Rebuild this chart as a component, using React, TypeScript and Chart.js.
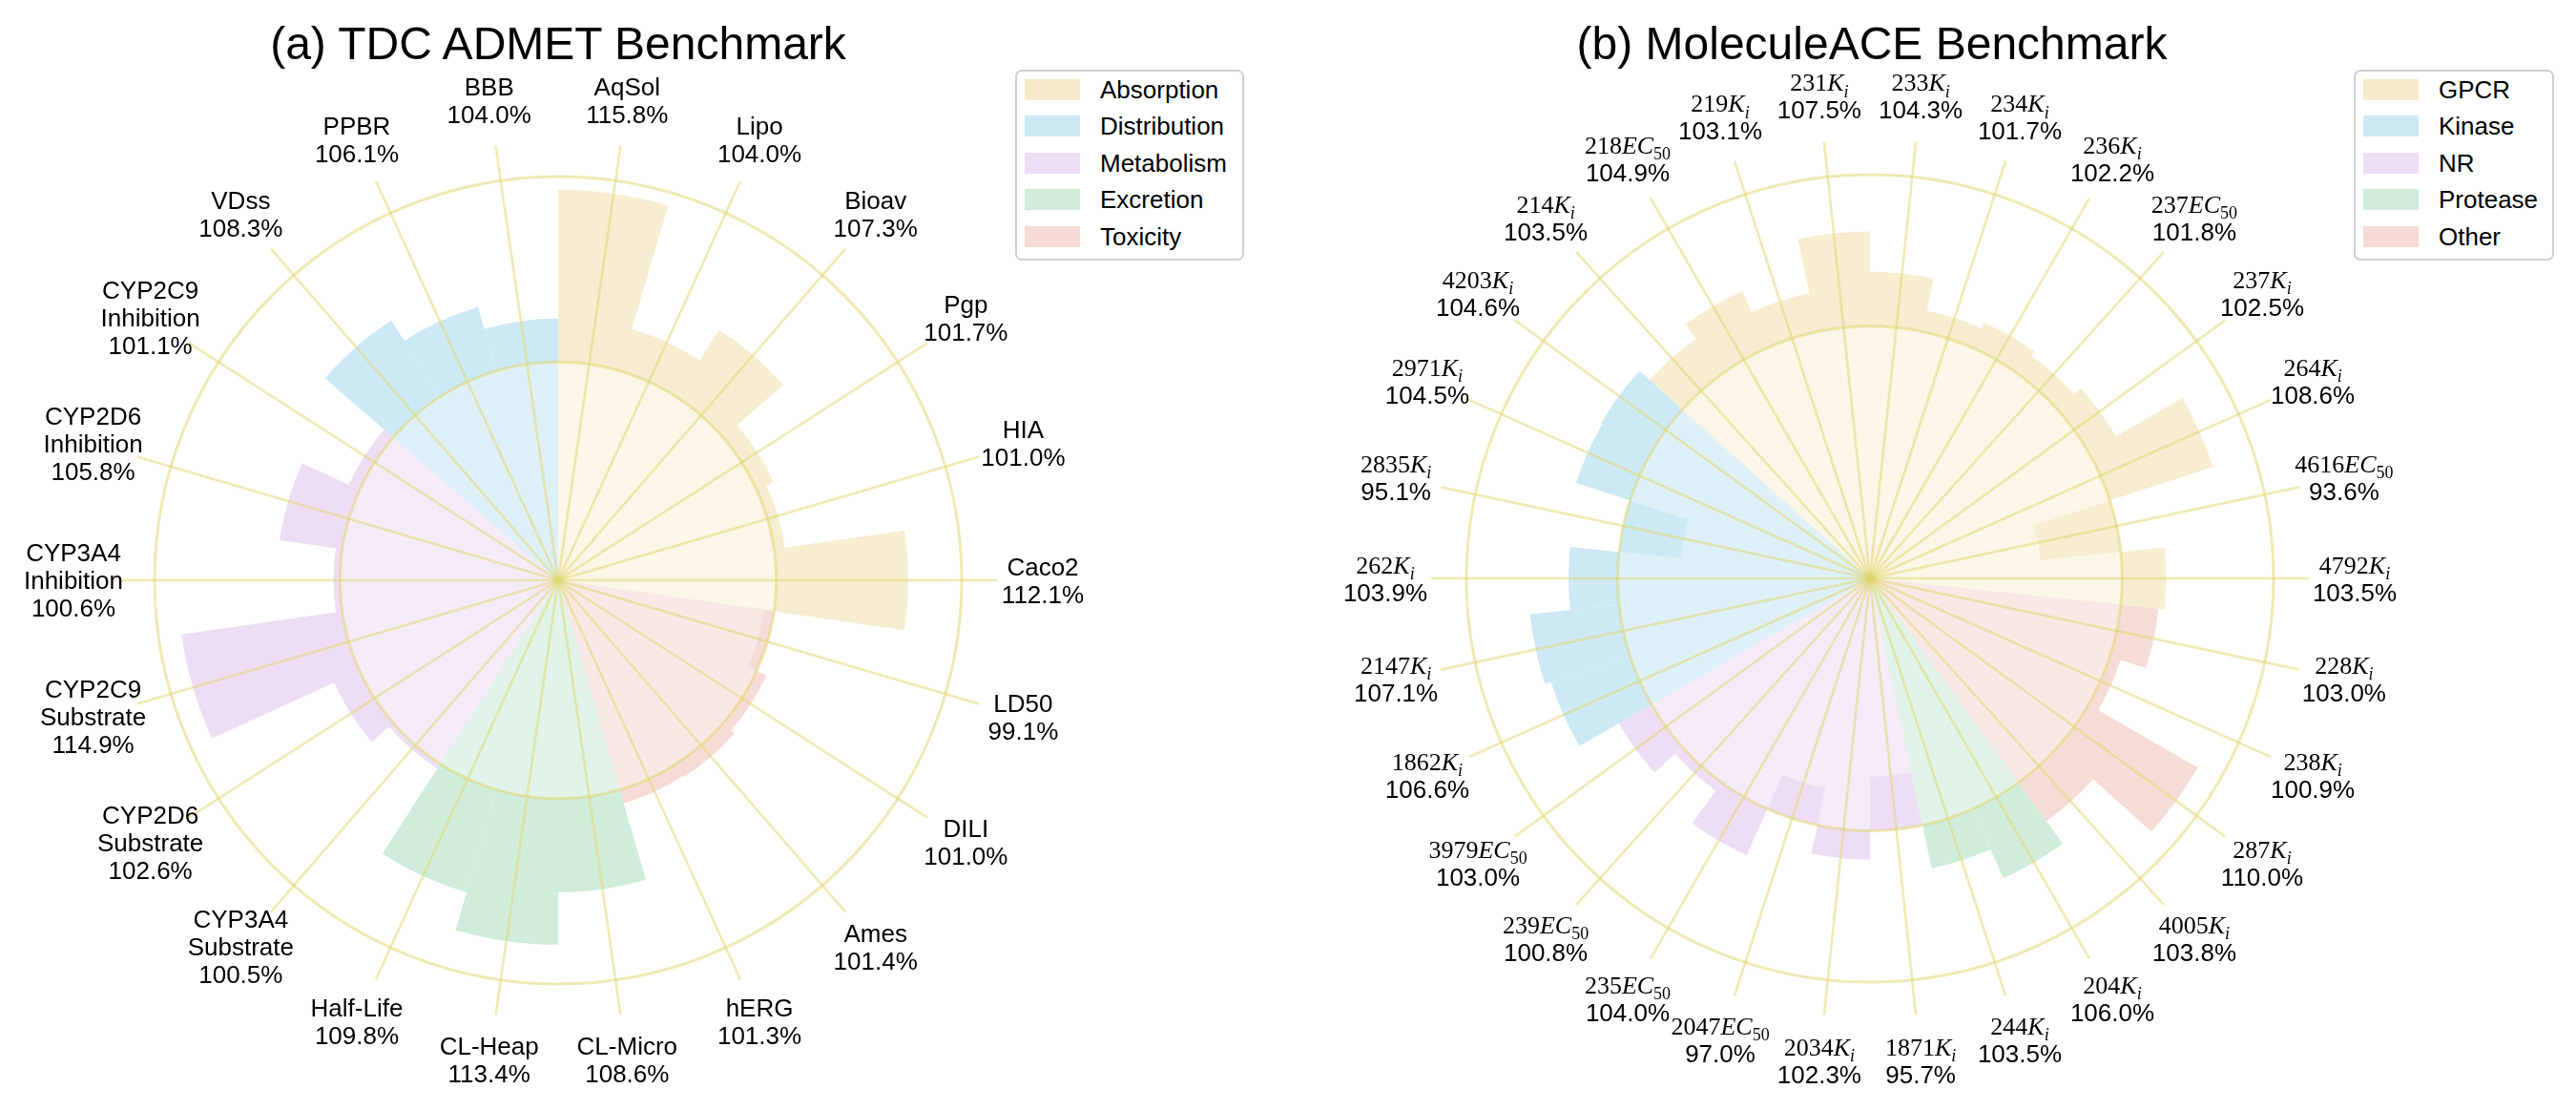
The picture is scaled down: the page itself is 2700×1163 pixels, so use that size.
import React, { useEffect, useRef } from 'react';
import { Chart, registerables } from 'chart.js';

Chart.register(...registerables);

// ---------------- data ----------------
const admetNames = [
  'AqSol', 'Lipo', 'Bioav', 'Pgp', 'HIA', 'Caco2',
  'LD50', 'DILI', 'Ames', 'hERG',
  'CL-Micro', 'CL-Heap', 'Half-Life',
  'CYP3A4\nSubstrate', 'CYP2D6\nSubstrate', 'CYP2C9\nSubstrate',
  'CYP3A4\nInhibition', 'CYP2D6\nInhibition', 'CYP2C9\nInhibition',
  'VDss', 'PPBR', 'BBB',
];
const admetValues = [
  115.8, 104.0, 107.3, 101.7, 101.0, 112.1,
  99.1, 101.0, 101.4, 101.3,
  108.6, 113.4, 109.8,
  100.5, 102.6, 114.9,
  100.6, 105.8, 101.1,
  108.3, 106.1, 104.0,
];
const admetGroups = ['Absorption', 'Distribution', 'Metabolism', 'Excretion', 'Toxicity'];
const admetGroupOf = [0, 0, 0, 0, 0, 0, 4, 4, 4, 4, 3, 3, 3, 2, 2, 2, 2, 2, 2, 1, 1, 1];

const aceTargets = [
  '233', '234', '236', '237', '237', '264', '4616', '4792',
  '228', '238', '287', '4005',
  '204', '244',
  '1871', '2034', '2047', '235', '239', '3979',
  '1862', '2147', '262', '2835', '2971', '4203',
  '214', '218', '219', '231',
];
const aceMeasures = [
  'Ki', 'Ki', 'Ki', 'EC50', 'Ki', 'Ki', 'EC50', 'Ki',
  'Ki', 'Ki', 'Ki', 'Ki',
  'Ki', 'Ki',
  'Ki', 'Ki', 'EC50', 'EC50', 'EC50', 'EC50',
  'Ki', 'Ki', 'Ki', 'Ki', 'Ki', 'Ki',
  'Ki', 'EC50', 'Ki', 'Ki',
];
const aceValues = [
  104.3, 101.7, 102.2, 101.8, 102.5, 108.6, 93.6, 103.5,
  103.0, 100.9, 110.0, 103.8,
  106.0, 103.5,
  95.7, 102.3, 97.0, 104.0, 100.8, 103.0,
  106.6, 107.1, 103.9, 95.1, 104.5, 104.6,
  103.5, 104.9, 103.1, 107.5,
];
const aceGroups = ['GPCR', 'Kinase', 'NR', 'Protease', 'Other'];
const aceGroupOf = [
  0, 0, 0, 0, 0, 0, 0, 0,
  4, 4, 4, 4,
  3, 3,
  2, 2, 2, 2, 2, 2,
  1, 1, 1, 1, 1, 1,
  0, 0, 0, 0,
];

// radial axis ranges
const R_MIN = 80;
const R_REF = 100;
const admetRMax = 117;
const aceRMax = 112;

// ---------------- styles ----------------
const SANS = '"Liberation Sans", Arial, Helvetica, sans-serif';
const SERIF = '"Liberation Serif", "Times New Roman", Times, serif';
const darkColors = ['rgb(247,237,209)', 'rgb(205,233,245)', 'rgb(237,222,245)', 'rgb(208,237,219)', 'rgb(245,220,214)'];
const lightColors = ['rgb(251,246,231)', 'rgb(223,241,248)', 'rgb(245,235,249)', 'rgb(226,244,233)', 'rgb(249,233,230)'];
const legendColors = ['rgb(246,234,203)', 'rgb(204,233,245)', 'rgb(237,222,246)', 'rgb(208,237,219)', 'rgb(245,219,212)'];
const GRID_COLOR = 'rgba(224,214,105,0.5)';

const FIG_W = 2700;
const FIG_H = 1163;
const PANEL_W = 1350;
const AXIS_R = 423; // px radius of outer circle
const SPOKE_R = 460; // px length of spokes
const LABEL_R = 508; // px distance of label centres
const FONT = 26;
const LINE_H = 29;

type Seg = { text: string; family: string; italic?: boolean; sub?: boolean };

function pct(v: number) {
  return v.toFixed(1) + '%';
}

function drawSegLine(ctx: CanvasRenderingContext2D, segs: Seg[], cx: number, yc: number) {
  const fontOf = (s: Seg) => {
    const size = s.sub ? Math.round(FONT * 0.7) : FONT;
    return `${s.italic ? 'italic ' : ''}${size}px ${s.family}`;
  };
  let total = 0;
  const widths = segs.map((s) => {
    ctx.font = fontOf(s);
    const w = ctx.measureText(s.text).width;
    total += w;
    return w;
  });
  let x = cx - total / 2;
  const base = yc + FONT * 0.35;
  ctx.textAlign = 'left';
  ctx.textBaseline = 'alphabetic';
  segs.forEach((s, k) => {
    ctx.font = fontOf(s);
    ctx.fillText(s.text, x, base + (s.sub ? FONT * 0.24 : 0));
    x += widths[k];
  });
}

function admetLabel(i: number): Seg[][] {
  const lines: Seg[][] = admetNames[i].split('\n').map((t) => [{ text: t, family: SANS }]);
  lines.push([{ text: pct(admetValues[i]), family: SANS }]);
  return lines;
}

function aceLabel(i: number): Seg[][] {
  const m = aceMeasures[i];
  const first: Seg[] = [{ text: aceTargets[i], family: SERIF }];
  if (m === 'Ki') {
    first.push({ text: 'K', family: SERIF, italic: true });
    first.push({ text: 'i', family: SERIF, italic: true, sub: true });
  } else {
    first.push({ text: 'EC', family: SERIF, italic: true });
    first.push({ text: '50', family: SERIF, sub: true });
  }
  return [first, [{ text: pct(aceValues[i]), family: SANS }]];
}

interface PanelSpec {
  names: string[];
  values: number[];
  groupOf: number[];
  rMax: number;
  label: (i: number) => Seg[][];
  padding: { left: number; top: number; right: number; bottom: number };
}

function makeChart(canvas: HTMLCanvasElement, p: PanelSpec) {
  const N = p.values.length;
  const spokeMax = R_MIN + ((p.rMax - R_MIN) * SPOKE_R) / AXIS_R;
  const inner = p.values.map((v) => Math.min(v, R_REF));
  const outer = p.values.map((v) => Math.max(v, R_REF));
  const light = p.groupOf.map((g) => lightColors[g]);
  const dark = p.groupOf.map((g) => darkColors[g]);

  const labelPlugin = {
    id: 'spokeLabels',
    afterDraw(chart: any) {
      const s = chart.scales.g;
      const ctx: CanvasRenderingContext2D = chart.ctx;
      const dist = (s.drawingArea * LABEL_R) / SPOKE_R;
      ctx.save();
      ctx.fillStyle = '#000000';
      for (let i = 0; i < N; i++) {
        const pos = s.getPointPosition(i, dist);
        const lines = p.label(i);
        const n = lines.length;
        lines.forEach((segs, k) => {
          drawSegLine(ctx, segs, pos.x, pos.y + (k - (n - 1) / 2) * LINE_H);
        });
      }
      ctx.restore();
    },
  };

  return new Chart(canvas, {
    type: 'polarArea',
    data: {
      labels: p.names,
      datasets: [
        { label: 'inner', data: inner, backgroundColor: light, borderWidth: 0, order: 0, rAxisID: 'r' } as any,
        { label: 'outer', data: outer, backgroundColor: dark, borderWidth: 0, order: 1, rAxisID: 'r' } as any,
      ],
    },
    options: {
      responsive: false,
      animation: false,
      layout: { padding: p.padding },
      plugins: { legend: { display: false }, tooltip: { enabled: false } },
      scales: {
        r: {
          type: 'radialLinear',
          min: R_MIN,
          max: spokeMax,
          startAngle: 0,
          grid: { display: false },
          angleLines: { display: false },
          ticks: { display: false },
          pointLabels: { display: false },
        },
        g: {
          type: 'radialLinear',
          axis: 'r',
          min: R_MIN,
          max: spokeMax,
          startAngle: 180 / N,
          grid: { display: true, circular: true, color: GRID_COLOR, lineWidth: 3, z: 1 },
          angleLines: { display: true, color: GRID_COLOR, lineWidth: 2.6 },
          ticks: { display: false },
          pointLabels: { display: false },
          afterBuildTicks: (scale: any) => {
            scale.ticks = [{ value: R_MIN }, { value: R_REF }, { value: p.rMax }];
          },
        },
      } as any,
    },
    plugins: [labelPlugin],
  } as any);
}

function Legend({ items, left, width }: { items: string[]; left: number; width: number }) {
  return (
    <div
      style={{
        position: 'absolute',
        left,
        top: 73,
        width,
        height: 200,
        boxSizing: 'border-box',
        border: '2px solid #d0d0d0',
        borderRadius: 7,
        background: '#ffffff',
        fontFamily: SANS,
        fontSize: FONT,
      }}
    >
      {items.map((t, k) => {
        const cy = 19 + k * 38.4;
        return (
          <React.Fragment key={t}>
            <div
              style={{
                position: 'absolute',
                left: 8,
                top: cy - 11,
                width: 58,
                height: 22,
                background: legendColors[k],
              }}
            />
            <div
              style={{
                position: 'absolute',
                left: 87,
                top: cy - 13,
                height: 26,
                lineHeight: '26px',
                whiteSpace: 'nowrap',
                color: '#000',
              }}
            >
              {t}
            </div>
          </React.Fragment>
        );
      })}
    </div>
  );
}

function Title({ text, cx }: { text: string; cx: number }) {
  return (
    <div
      style={{
        position: 'absolute',
        left: cx - 600,
        width: 1200,
        top: 22,
        textAlign: 'center',
        fontFamily: SANS,
        fontSize: 48,
        lineHeight: '48px',
        color: '#000',
        whiteSpace: 'nowrap',
      }}
    >
      {text}
    </div>
  );
}

export default function App() {
  const leftRef = useRef<HTMLCanvasElement>(null);
  const rightRef = useRef<HTMLCanvasElement>(null);

  useEffect(() => {
    const charts: Chart[] = [];
    if (leftRef.current) {
      charts.push(
        makeChart(leftRef.current, {
          names: admetNames,
          values: admetValues,
          groupOf: admetGroupOf,
          rMax: admetRMax,
          label: admetLabel,
          padding: { left: 125, top: 148, right: PANEL_W - 125 - 920, bottom: FIG_H - 148 - 920 },
        })
      );
    }
    if (rightRef.current) {
      charts.push(
        makeChart(rightRef.current, {
          names: aceTargets.map((t, i) => t + aceMeasures[i]),
          values: aceValues,
          groupOf: aceGroupOf,
          rMax: aceRMax,
          label: aceLabel,
          padding: { left: 150, top: 146, right: PANEL_W - 150 - 920, bottom: FIG_H - 146 - 920 },
        })
      );
    }
    return () => charts.forEach((c) => c.destroy());
  }, []);

  return (
    <div
      style={{
        position: 'absolute',
        left: 0,
        top: 0,
        width: FIG_W,
        height: FIG_H,
        background: '#ffffff',
        overflow: 'hidden',
      }}
    >
      <canvas
        ref={leftRef}
        width={PANEL_W}
        height={FIG_H}
        style={{ position: 'absolute', left: 0, top: 0, width: PANEL_W, height: FIG_H }}
      />
      <canvas
        ref={rightRef}
        width={PANEL_W}
        height={FIG_H}
        style={{ position: 'absolute', left: PANEL_W, top: 0, width: PANEL_W, height: FIG_H }}
      />
      <Title text="(a) TDC ADMET Benchmark" cx={585} />
      <Title text="(b) MoleculeACE Benchmark" cx={1962} />
      <Legend items={admetGroups} left={1064} width={240} />
      <Legend items={aceGroups} left={2467} width={210} />
    </div>
  );
}
